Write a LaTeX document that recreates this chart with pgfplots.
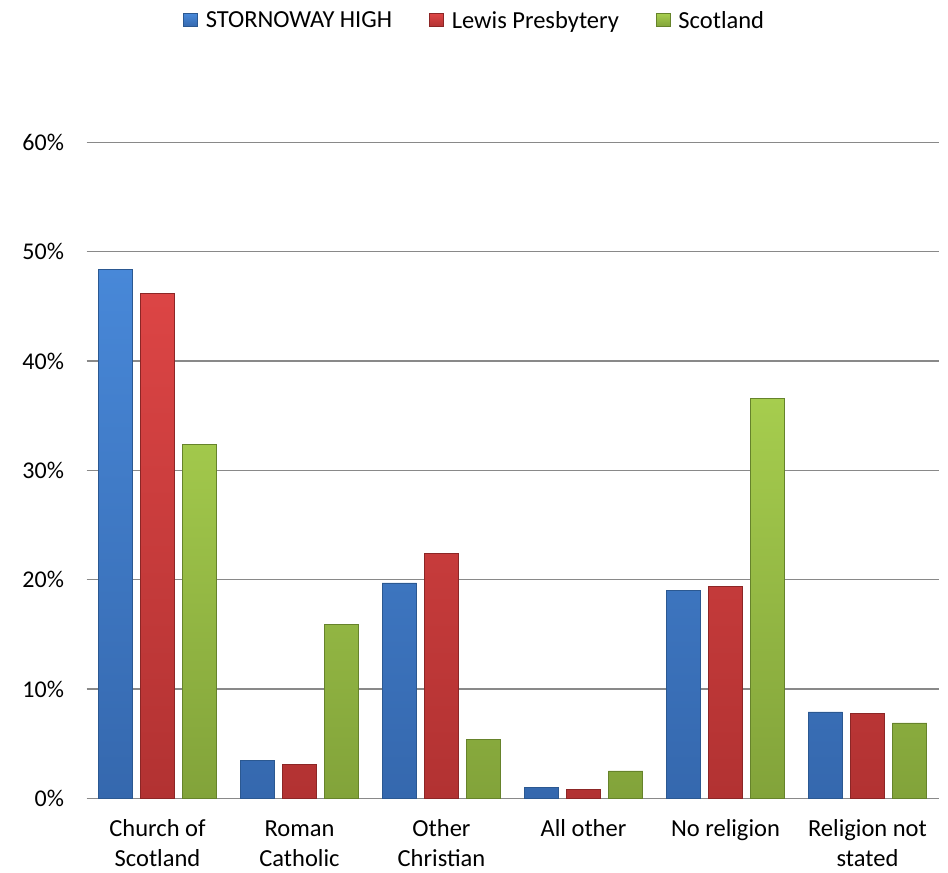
\documentclass[border=0pt]{standalone}
\usepackage{fontspec}
\setmainfont{Carlito}
\usepackage{pgfplots}
\pgfplotsset{compat=1.18}

\definecolor{bluetop}{HTML}{4888D8}
\definecolor{bluebot}{HTML}{3568AE}
\definecolor{blueedge}{HTML}{2B5891}
\definecolor{redtop}{HTML}{DC4545}
\definecolor{redbot}{HTML}{B23232}
\definecolor{rededge}{HTML}{8C2626}
\definecolor{greentop}{HTML}{A6CD4E}
\definecolor{greenbot}{HTML}{82A33A}
\definecolor{greenedge}{HTML}{66832B}
\definecolor{gridgray}{HTML}{898989}

\begin{document}
\begin{tikzpicture}[x=1pt,y=1pt]
\path[use as bounding box] (0,0) rectangle (948,873);
\begin{axis}[
    at={(86.5pt,74.7pt)}, anchor=south west,
    scale only axis, width=852pt, height=656pt,
    ybar, bar width=0.243,
    xmin=-0.5, xmax=5.5, ymin=0, ymax=60,
    xtick={0,...,5},
    xticklabels={\strut Church of\\Scotland, \strut Roman\\Catholic, \strut Other\\Christian,
                 \strut All other, \strut No religion, \strut Religion not\\stated},
    ytick={0,10,...,60},
    yticklabel={\pgfmathprintnumber{\tick}\%},
    /pgf/number format/assume math mode=true,
    major tick length=0pt,
    axis line style={draw=none},
    ymajorgrids,
    grid style={gridgray, line width=1.4pt},
    yticklabel style={font=\fontsize{24}{30}\selectfont, text=black, xshift=-19pt},
    xticklabel style={font=\fontsize{24.5}{30}\selectfont, text=black, align=center, yshift=-14pt},
    legend style={at={(0.4556,1.186)}, anchor=center, draw=none, fill=none,
                  font=\fontsize{24.5}{29}\selectfont,
                  /tikz/every even column/.append style={column sep=35pt}},
    legend columns=3,
    legend image code/.code={\draw[#1,line width=0.6pt] (0pt,-6.5pt) rectangle (14pt,6.5pt);
                             \path (20pt,0pt);},
]
\addplot[bar shift=-0.296, top color=bluetop, bottom color=bluebot, draw=blueedge, line width=0.6pt]
    coordinates {(0,48.4) (1,3.5) (2,19.7) (3,1.0) (4,19.0) (5,7.9)};
\addplot[bar shift=0, top color=redtop, bottom color=redbot, draw=rededge, line width=0.6pt]
    coordinates {(0,46.2) (1,3.1) (2,22.4) (3,0.85) (4,19.4) (5,7.8)};
\addplot[bar shift=0.296, top color=greentop, bottom color=greenbot, draw=greenedge, line width=0.6pt]
    coordinates {(0,32.4) (1,15.9) (2,5.4) (3,2.5) (4,36.6) (5,6.9)};
\legend{STORNOWAY HIGH, Lewis Presbytery, Scotland}
\end{axis}
\end{tikzpicture}
\end{document}
